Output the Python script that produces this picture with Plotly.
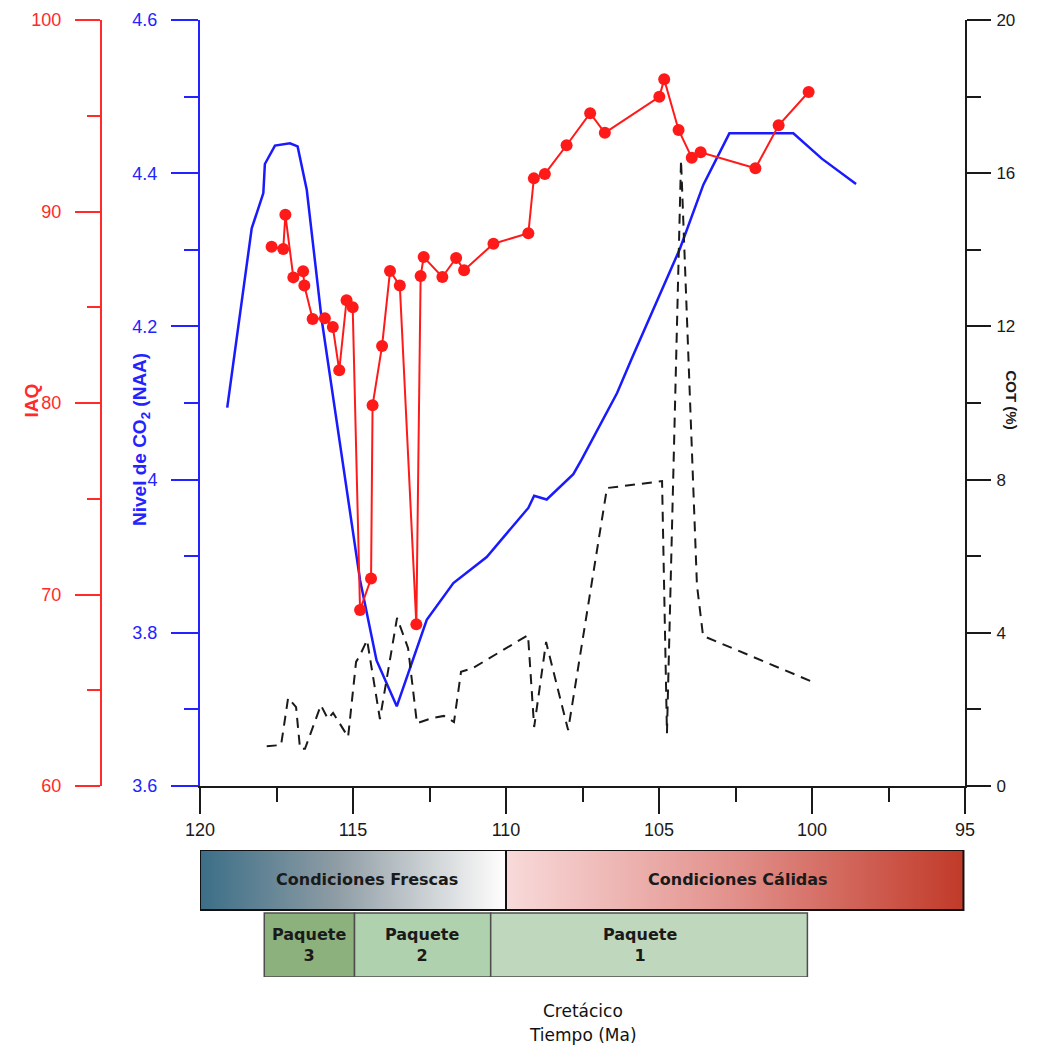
import plotly.graph_objects as go

# ---------------- data ----------------
co2_age = [119.11, 118.31, 117.93, 117.88, 117.55, 117.06, 116.81, 116.51, 116.02, 114.77,
           114.23, 113.57, 112.59, 112.16, 111.72, 110.63, 109.27, 109.08, 108.67, 107.80,
           107.53, 106.37, 105.89, 104.31, 103.55, 102.70, 100.61, 99.68, 98.56]
co2_val = [4.094, 4.328, 4.374, 4.412, 4.436, 4.439, 4.435, 4.378, 4.208, 3.869,
           3.764, 3.704, 3.817, 3.841, 3.865, 3.899, 3.963, 3.979, 3.974, 4.007,
           4.026, 4.113, 4.158, 4.302, 4.385, 4.452, 4.452, 4.419, 4.386]

iaq_age = [117.66, 117.28, 117.21, 116.95, 116.63, 116.59, 116.32, 115.92, 115.66, 115.45,
           115.21, 115.01, 114.77, 114.41, 114.36, 114.05, 113.79, 113.47, 112.93, 112.79,
           112.69, 112.08, 111.63, 111.37, 110.41, 109.27, 109.09, 108.73, 108.02, 107.25,
           106.77, 104.99, 104.83, 104.36, 103.93, 103.64, 101.85, 101.09, 100.11]
iaq_val = [88.16, 88.04, 89.83, 86.56, 86.88, 86.13, 84.39, 84.42, 83.97, 81.71,
           85.36, 85.00, 69.19, 70.83, 79.88, 82.98, 86.89, 86.13, 68.44, 86.63,
           87.62, 86.58, 87.57, 86.93, 88.32, 88.86, 91.73, 91.96, 93.46, 95.13,
           94.11, 95.99, 96.90, 94.26, 92.81, 93.09, 92.26, 94.50, 96.24]

cot_age = [117.82, 117.35, 117.12, 116.86, 116.73, 116.57, 116.05, 115.82, 115.65, 115.16,
           114.90, 114.77, 114.54, 114.12, 113.56, 113.20, 112.91, 112.39, 112.03, 111.70,
           111.47, 111.08, 109.28, 109.08, 108.69, 107.97, 106.70, 104.90, 104.74, 104.28,
           103.76, 103.56, 99.90]
cot_val = [1.04, 1.07, 2.30, 2.06, 0.97, 0.97, 2.11, 1.75, 1.91, 1.28,
           3.24, 3.42, 3.81, 1.75, 4.39, 3.60, 1.64, 1.78, 1.83, 1.67,
           2.98, 3.08, 3.94, 1.54, 3.76, 1.46, 7.78, 7.96, 1.38, 16.34,
           5.25, 3.92, 2.69]

x_ticks = [120, 115, 110, 105, 100, 95]
co2_ticks = [3.6, 3.8, 4.0, 4.2, 4.4, 4.6]
co2_ticktext = ["3.6", "3.8", "4", "4.2", "4.4", "4.6"]
iaq_ticks = [60, 70, 80, 90, 100]
cot_ticks = [0, 4, 8, 12, 16, 20]

cond_names = ["Condiciones Frescas", "Condiciones Cálidas"]
cond_start = [120.0, 110.0]
cond_end = [110.0, 95.05]
cond_label_x = [114.55, 102.42]
cond_scales = [
    [[0, "#3b6e87"], [0.45, "#8f9da5"], [0.93, "#f2f2f2"], [1, "#ffffff"]],
    [[0, "#f8dada"], [0.5, "#e2908b"], [1, "#c13a29"]],
]

paq_names = ["Paquete<br>3", "Paquete<br>2", "Paquete<br>1"]
paq_start = [117.9, 114.95, 110.5]
paq_end = [114.95, 110.5, 100.15]
paq_label_x = [116.43, 112.73, 105.62]
paq_colors = ["#8db17c", "#afd1ae", "#bfd8bd"]

# ---------------- figure ----------------
W, H = 1039, 1064
OFF = 8  # page body margin
RED = "#ff2a2a"
BLUE = "#2323ff"
BLK = "#1a1a1a"
FONT = "Liberation Sans, Arial, sans-serif"
BOXFONT = "DejaVu Sans, sans-serif"

def px_x(p):
    return (p - OFF) / W

def px_y(p):
    return 1 - (p - OFF) / H

xdom = [px_x(200), px_x(965)]
ydom = [px_y(786), px_y(20)]

fig = go.Figure()

fig.add_trace(go.Scatter(x=co2_age, y=co2_val, mode="lines",
                         line=dict(color="#1a1aff", width=2.5),
                         xaxis="x", yaxis="y", hoverinfo="skip"))
fig.add_trace(go.Scatter(x=cot_age, y=cot_val, mode="lines",
                         line=dict(color=BLK, width=2, dash="10px,7px"),
                         xaxis="x", yaxis="y2", hoverinfo="skip"))
fig.add_trace(go.Scatter(x=iaq_age, y=iaq_val, mode="lines+markers",
                         line=dict(color="#ff1a1a", width=2),
                         marker=dict(color="#ff1a1a", size=12),
                         xaxis="x", yaxis="y3", hoverinfo="skip"))

# period boxes on a helper axis pair
for name, a, b, lx, cs in zip(cond_names, cond_start, cond_end, cond_label_x, cond_scales):
    fig.add_trace(go.Scatter(x=[a, b, b, a, a], y=[0.528, 0.528, 1, 1, 0.528],
                             mode="lines", fill="toself",
                             fillgradient=dict(type="horizontal", colorscale=cs),
                             line=dict(color="#111111", width=2),
                             xaxis="x2", yaxis="y4", hoverinfo="skip"))
    fig.add_annotation(x=lx, y=0.764, xref="x2", yref="y4", text="<b>" + name + "</b>",
                       showarrow=False, font=dict(family=BOXFONT, size=16, color="#1a1a1a"))

for name, a, b, lx, c in zip(paq_names, paq_start, paq_end, paq_label_x, paq_colors):
    fig.add_trace(go.Scatter(x=[a, b, b, a, a], y=[0, 0, 0.504, 0.504, 0],
                             mode="lines", fill="toself", fillcolor=c,
                             line=dict(color="#4d4d4d", width=1.5),
                             xaxis="x2", yaxis="y4", hoverinfo="skip"))
    fig.add_annotation(x=lx, y=0.252, xref="x2", yref="y4", text="<b>" + name + "</b>",
                       showarrow=False, font=dict(family=BOXFONT, size=16, color="#1a1a1a"))

fig.update_layout(
    width=W, height=H,
    margin=dict(l=0, r=0, t=0, b=0, autoexpand=False),
    paper_bgcolor="white", plot_bgcolor="rgba(0,0,0,0)",
    showlegend=False,
    xaxis=dict(domain=xdom, range=[120, 95], anchor="y", automargin=False,
               tickmode="array", tickvals=x_ticks,
               ticks="outside", ticklen=26, tickwidth=2, tickcolor=BLK,
               minor=dict(dtick=2.5, tick0=95, ticks="outside", ticklen=14, tickwidth=2, tickcolor=BLK),
               showline=True, linecolor=BLK, linewidth=2, showgrid=False, zeroline=False,
               tickfont=dict(family=FONT, size=18, color=BLK), ticklabelstandoff=0),
    yaxis=dict(domain=ydom, range=[3.6, 4.6], anchor="x", side="left", automargin=False,
               tickmode="array", tickvals=co2_ticks, ticktext=co2_ticktext,
               ticks="outside", ticklen=27, tickwidth=2, tickcolor=BLUE,
               minor=dict(dtick=0.1, tick0=3.6, ticks="outside", ticklen=14, tickwidth=2, tickcolor=BLUE),
               showline=True, linecolor=BLUE, linewidth=2, showgrid=False, zeroline=False,
               tickfont=dict(family=FONT, size=18, color=BLUE), ticklabelstandoff=10),
    yaxis2=dict(domain=ydom, range=[0, 20], overlaying="y", anchor="x", side="right",
                automargin=False,
                tickmode="array", tickvals=cot_ticks,
                ticks="outside", ticklen=24, tickwidth=2, tickcolor=BLK,
                minor=dict(dtick=2, tick0=0, ticks="outside", ticklen=14, tickwidth=2, tickcolor=BLK),
                showline=True, linecolor=BLK, linewidth=2, showgrid=False, zeroline=False,
                tickfont=dict(family=FONT, size=17, color=BLK), ticklabelstandoff=2),
    yaxis3=dict(domain=ydom, range=[60, 100], overlaying="y", anchor="free",
                position=px_x(101), side="left", automargin=False,
                tickmode="array", tickvals=iaq_ticks,
                ticks="outside", ticklen=25, tickwidth=2, tickcolor=RED,
                minor=dict(dtick=5, tick0=60, ticks="outside", ticklen=13, tickwidth=2, tickcolor=RED),
                showline=True, linecolor=RED, linewidth=2, showgrid=False, zeroline=False,
                tickfont=dict(family=FONT, size=18, color=RED), ticklabelstandoff=10),
    xaxis2=dict(domain=xdom, range=[120, 95], anchor="y4", visible=False, automargin=False),
    yaxis4=dict(domain=[px_y(977), px_y(850)], range=[0, 1], anchor="x2", visible=False,
                automargin=False),
)

# axis titles
fig.add_annotation(x=px_x(18), y=px_y(401), xref="paper", yref="paper", text="<b>IAQ</b>",
                   textangle=-90, showarrow=False, font=dict(family=FONT, size=19, color=RED))
fig.add_annotation(x=px_x(127), y=px_y(440), xref="paper", yref="paper",
                   text="<b>Nivel de CO<sub>2</sub> (NAA)</b>",
                   textangle=-90, showarrow=False, font=dict(family=FONT, size=19, color=BLUE))
fig.add_annotation(x=px_x(1022), y=px_y(400), xref="paper", yref="paper", text="<b>COT (%)</b>",
                   textangle=90, showarrow=False, font=dict(family=FONT, size=15, color=BLK))
fig.add_annotation(x=px_x(583), y=px_y(1023), xref="paper", yref="paper", text="Cretácico",
                   showarrow=False, font=dict(family=BOXFONT, size=17, color="#111111"))
fig.add_annotation(x=px_x(583), y=px_y(1047), xref="paper", yref="paper", text="Tiempo (Ma)",
                   showarrow=False, font=dict(family=BOXFONT, size=17, color="#111111"))

fig.write_html("out.html")
